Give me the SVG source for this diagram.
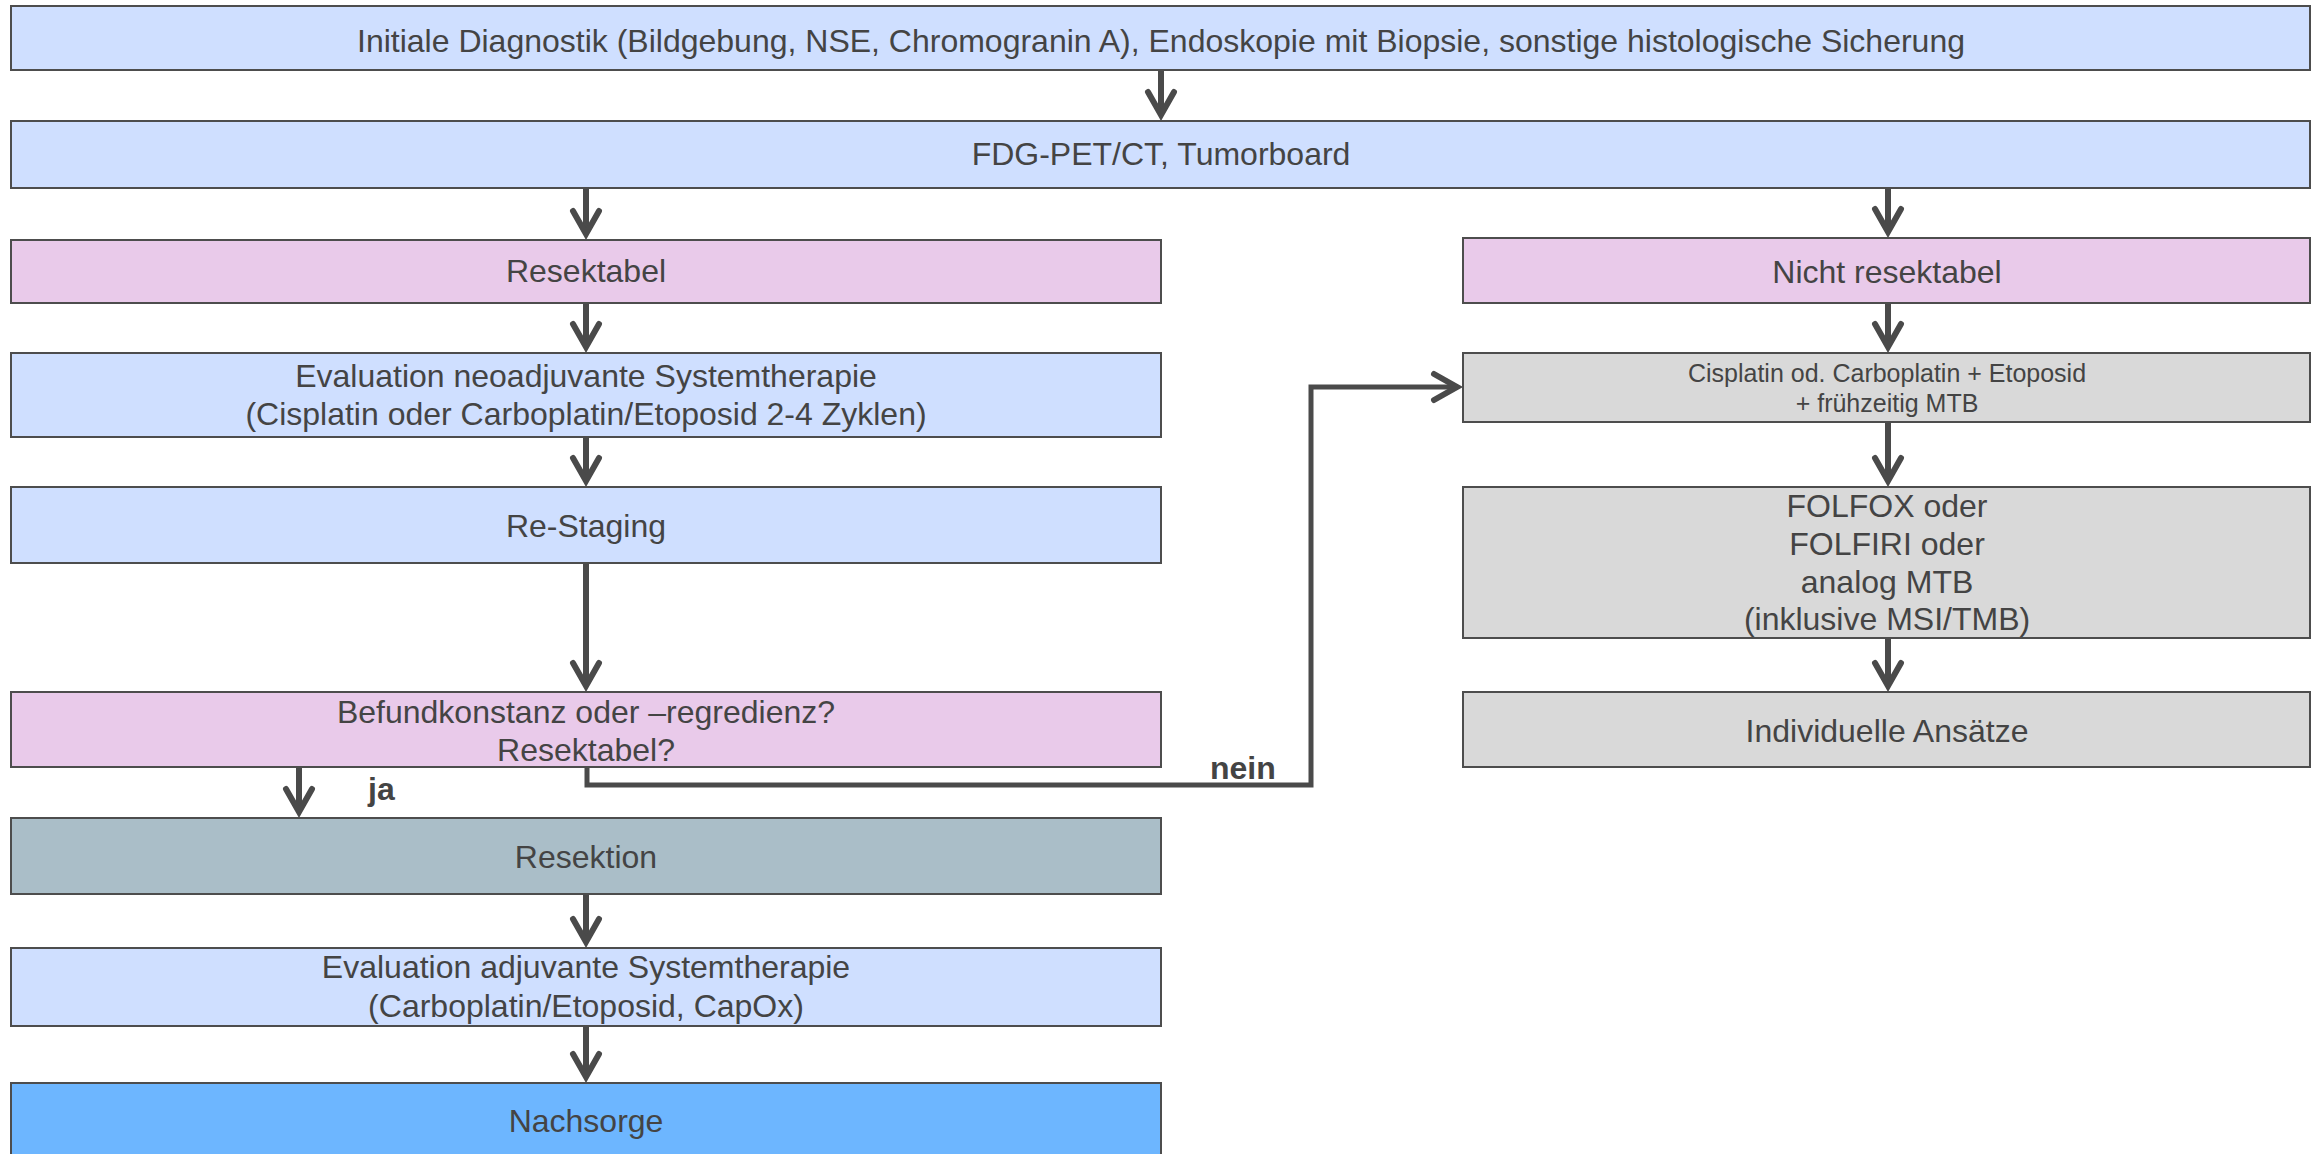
<svg xmlns="http://www.w3.org/2000/svg" width="2321" height="1154" viewBox="0 0 2321 1154">
  <defs>
    <style>
      .box { stroke: #4d4d4d; stroke-width: 2; }
      .blue { fill: #cfdfff; }
      .pink { fill: #e9caea; }
      .gray { fill: #d9d9d9; }
      .slate { fill: #aabec8; }
      .deep { fill: #6db6ff; }
      .t { font-family: "Liberation Sans", Arial, sans-serif; font-size: 32px; fill: #444444; text-anchor: middle; }
      .small { font-size: 25px; }
      .lbl { font-family: "Liberation Sans", Arial, sans-serif; font-size: 32px; font-weight: bold; fill: #444444; }
      .edge { fill: none; stroke: #4a4a4a; stroke-width: 6; }
      .loop { stroke-width: 5; stroke-linejoin: miter; }
    </style>
    <!-- open chevron head; vertex sits at the path end -->
    <marker id="arrow" viewBox="-32 -20 42 40" refX="0" refY="0" markerWidth="42" markerHeight="40" markerUnits="userSpaceOnUse" orient="auto">
      <path d="M-23,-13 L0,0 L-23,13" fill="none" stroke="#4a4a4a" stroke-width="6" stroke-linecap="round" stroke-linejoin="miter"/>
    </marker>
  </defs>

  <rect width="2321" height="1154" fill="#ffffff"/>

  <g id="connectors">
    <path class="edge" d="M1161,70 V115" marker-end="url(#arrow)"/>
    <path class="edge" d="M586,188 V234" marker-end="url(#arrow)"/>
    <path class="edge" d="M1888,188 V232" marker-end="url(#arrow)"/>
    <path class="edge" d="M586,303 V347" marker-end="url(#arrow)"/>
    <path class="edge" d="M586,437 V481" marker-end="url(#arrow)"/>
    <path class="edge" d="M586,563 V686" marker-end="url(#arrow)"/>
    <path class="edge" d="M299,767 V812" marker-end="url(#arrow)"/>
    <path class="edge" d="M586,894 V942" marker-end="url(#arrow)"/>
    <path class="edge" d="M586,1026 V1077" marker-end="url(#arrow)"/>
    <path class="edge" d="M1888,303 V347" marker-end="url(#arrow)"/>
    <path class="edge" d="M1888,422 V481" marker-end="url(#arrow)"/>
    <path class="edge" d="M1888,638 V686" marker-end="url(#arrow)"/>
    <path class="edge loop" d="M587,767 V785 H1311 V387 H1457" marker-end="url(#arrow)"/>
    <text class="lbl" x="368" y="800">ja</text>
    <text class="lbl" x="1210" y="779">nein</text>
  </g>

  <g id="initial-diagnostics">
    <rect class="box blue" x="11" y="6" width="2299" height="64"/>
    <text class="t" x="1161" y="52">Initiale Diagnostik (Bildgebung, NSE, Chromogranin A), Endoskopie mit Biopsie, sonstige histologische Sicherung</text>
  </g>

  <g id="pet-ct">
    <rect class="box blue" x="11" y="121" width="2299" height="67"/>
    <text class="t" x="1161" y="165">FDG-PET/CT, Tumorboard</text>
  </g>

  <g id="resectable">
    <rect class="box pink" x="11" y="240" width="1150" height="63"/>
    <text class="t" x="586" y="282">Resektabel</text>
  </g>

  <g id="not-resectable">
    <rect class="box pink" x="1463" y="238" width="847" height="65"/>
    <text class="t" x="1887" y="283">Nicht resektabel</text>
  </g>

  <g id="neoadjuvant">
    <rect class="box blue" x="11" y="353" width="1150" height="84"/>
    <text class="t" x="586" y="387">Evaluation neoadjuvante Systemtherapie</text>
    <text class="t" x="586" y="425">(Cisplatin oder Carboplatin/Etoposid 2-4 Zyklen)</text>
  </g>

  <g id="restaging">
    <rect class="box blue" x="11" y="487" width="1150" height="76"/>
    <text class="t" x="586" y="537">Re-Staging</text>
  </g>

  <g id="decision">
    <rect class="box pink" x="11" y="692" width="1150" height="75"/>
    <text class="t" x="586" y="723">Befundkonstanz oder –regredienz?</text>
    <text class="t" x="586" y="761">Resektabel?</text>
  </g>

  <g id="resection">
    <rect class="box slate" x="11" y="818" width="1150" height="76"/>
    <text class="t" x="586" y="868">Resektion</text>
  </g>

  <g id="adjuvant">
    <rect class="box blue" x="11" y="948" width="1150" height="78"/>
    <text class="t" x="586" y="978">Evaluation adjuvante Systemtherapie</text>
    <text class="t" x="586" y="1017">(Carboplatin/Etoposid, CapOx)</text>
  </g>

  <g id="follow-up">
    <rect class="box deep" x="11" y="1083" width="1150" height="80"/>
    <text class="t" x="586" y="1132">Nachsorge</text>
  </g>

  <g id="platinum-etoposide">
    <rect class="box gray" x="1463" y="353" width="847" height="69"/>
    <text class="t small" x="1887" y="382">Cisplatin od. Carboplatin + Etoposid</text>
    <text class="t small" x="1887" y="412">+ frühzeitig MTB</text>
  </g>

  <g id="folfox-folfiri">
    <rect class="box gray" x="1463" y="487" width="847" height="151"/>
    <text class="t" x="1887" y="517">FOLFOX oder</text>
    <text class="t" x="1887" y="555">FOLFIRI oder</text>
    <text class="t" x="1887" y="593">analog MTB</text>
    <text class="t" x="1887" y="630">(inklusive MSI/TMB)</text>
  </g>

  <g id="individual">
    <rect class="box gray" x="1463" y="692" width="847" height="75"/>
    <text class="t" x="1887" y="742">Individuelle Ansätze</text>
  </g>
</svg>
